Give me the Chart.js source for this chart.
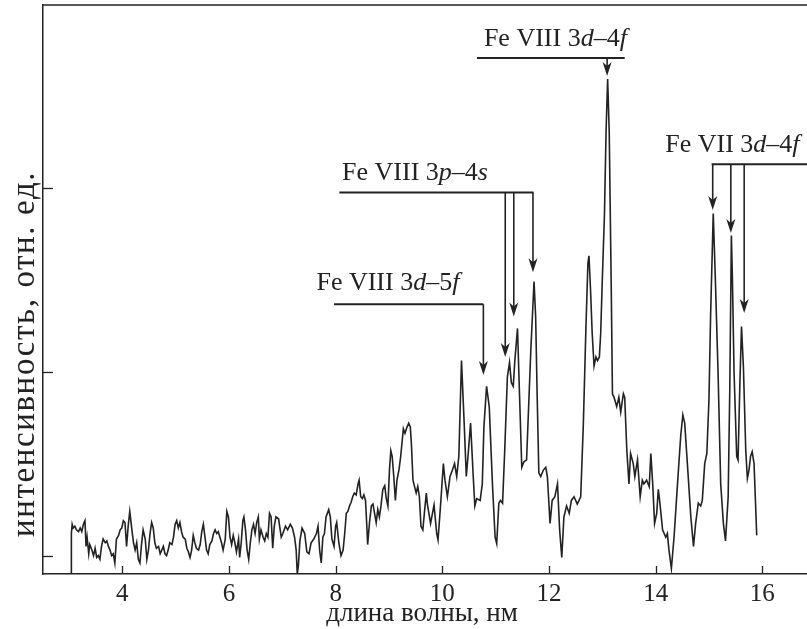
<!DOCTYPE html>
<html>
<head>
<meta charset="utf-8">
<script src="https://cdn.jsdelivr.net/npm/chart.js@4/dist/chart.umd.min.js"></script>
<style>
html,body{margin:0;padding:0;background:#fff;}
#wrap{width:807px;height:629px;position:relative;}
</style>
</head>
<body>
<div id="wrap"><canvas id="c" width="807" height="629"></canvas></div>
<script>
// ---- data (wavelength, nm ; intensity, arb. units) ----
const wavelength = [
3.04,3.045,3.06,3.08,3.11,3.14,3.18,3.21,3.24,3.27,3.30,3.32,3.34,3.37,3.39,3.43,3.46,3.49,3.52,3.55,3.58,3.61,3.64,3.68,3.71,3.74,3.77,3.80,3.83,3.86,3.89,3.93,3.96,3.99,
4.02,4.05,4.08,4.11,4.14,4.18,4.21,4.24,4.27,4.30,4.33,4.36,4.39,4.43,4.46,4.49,4.52,4.55,4.58,4.61,4.64,4.68,4.71,4.74,4.77,4.80,4.83,4.86,4.89,4.93,4.96,4.99,
5.02,5.05,5.08,5.11,5.14,5.18,5.21,5.24,5.27,5.30,5.33,5.36,5.39,5.43,5.46,5.49,5.52,5.55,5.58,5.61,5.64,5.68,5.71,5.74,5.77,5.80,5.83,5.86,5.89,5.93,5.96,5.99,
6.02,6.05,6.08,6.11,6.14,6.18,6.20,6.23,6.26,6.28,6.31,6.34,6.37,6.40,6.43,6.46,6.49,6.52,6.55,6.57,6.60,6.64,6.67,6.70,6.73,6.76,6.79,6.82,6.85,6.88,6.93,6.98,
7.01,7.06,7.10,7.15,7.19,7.23,7.26,7.28,7.30,7.33,7.37,7.42,7.46,7.50,7.54,7.59,7.64,7.67,7.70,7.73,7.76,7.79,7.82,7.87,7.90,7.93,7.97,
8.00,8.02,8.06,8.10,8.14,8.17,8.20,8.23,8.26,8.29,8.32,8.35,8.385,8.42,8.44,8.47,8.50,8.53,8.56,8.585,8.60,8.635,8.67,8.70,8.73,8.76,8.79,8.82,8.85,8.885,8.92,8.95,8.98,
9.01,9.035,9.06,9.09,9.12,9.15,9.19,9.22,9.25,9.27,9.30,9.34,9.37,9.40,9.42,9.45,9.48,9.51,9.54,9.57,9.60,9.635,9.67,9.70,9.72,9.78,9.845,9.895,9.92,9.97,
10.02,10.05,10.095,10.145,10.19,10.23,10.27,10.31,10.36,10.41,10.45,10.49,10.53,10.58,10.61,10.645,10.71,10.75,10.78,10.83,10.88,10.94,10.99,
11.02,11.06,11.09,11.13,11.17,11.22,11.26,11.295,11.33,11.36,11.41,11.445,11.49,11.53,11.58,11.66,11.72,11.75,11.78,11.81,11.845,11.895,11.94,11.97,
12.02,12.06,12.11,12.16,12.20,12.24,12.28,12.33,12.38,12.42,12.47,12.53,12.595,12.645,12.69,12.73,12.75,12.78,12.81,12.845,12.88,12.91,12.945,12.97,
13.00,13.04,13.07,13.10,13.13,13.15,13.17,13.19,13.22,13.27,13.31,13.345,13.395,13.42,13.46,13.50,13.53,13.58,13.61,13.66,13.71,13.75,13.78,13.83,13.88,13.91,13.945,13.98,
14.02,14.05,14.08,14.13,14.19,14.22,14.25,14.295,14.345,14.41,14.47,14.51,14.545,14.595,14.66,14.71,14.75,14.80,14.845,14.875,14.92,14.96,
15.00,15.03,15.08,15.12,15.17,15.22,15.27,15.31,15.36,15.39,15.42,15.44,15.47,15.52,15.545,15.58,15.61,15.645,15.69,15.72,15.75,15.78,15.81,15.845,15.875,15.895
];
const intensity = [
-0.10,0.12,0.17,0.15,0.16,0.14,0.13,0.15,0.13,0.17,0.19,0.05,0.10,0.01,0.06,0.03,0.00,0.04,-0.01,0.00,-0.02,0.05,0.09,0.07,0.08,0.05,0.03,0.00,0.01,-0.04,0.09,0.11,0.14,0.15,
0.19,0.18,0.05,0.16,0.24,0.14,0.07,0.03,0.07,-0.02,-0.04,0.06,0.14,0.09,-0.02,0.03,0.12,0.18,0.15,0.07,0.04,0.05,0.01,0.03,0.05,0.01,0.00,0.03,0.07,0.06,0.10,0.17,
0.19,0.15,0.18,0.13,0.10,0.09,0.04,0.02,-0.01,0.03,0.11,0.07,0.04,0.03,0.06,0.13,0.17,0.10,0.03,0.01,0.06,0.08,0.12,0.14,0.12,0.13,0.10,0.07,0.03,0.09,0.24,0.21,
0.10,0.06,0.11,0.07,0.02,0.09,-0.01,0.07,0.19,0.21,0.14,0.03,-0.02,0.07,0.14,0.17,0.12,0.18,0.21,0.09,0.14,0.10,0.08,0.12,0.10,0.23,0.21,0.04,0.16,0.21,0.20,0.10,
0.12,0.16,0.14,0.17,0.15,0.10,0.03,-0.10,-0.06,0.08,0.15,0.12,0.02,0.01,0.07,0.09,0.12,0.16,0.03,-0.04,0.10,0.12,0.21,0.25,0.21,0.09,0.05,
0.16,0.18,0.07,0.00,0.03,0.12,0.23,0.24,0.27,0.29,0.32,0.34,0.33,0.39,0.41,0.32,0.31,0.33,0.30,0.16,0.06,0.18,0.27,0.28,0.23,0.18,0.25,0.21,0.27,0.36,0.38,0.31,0.27,
0.47,0.57,0.54,0.43,0.30,0.41,0.47,0.54,0.63,0.69,0.665,0.70,0.72,0.70,0.61,0.41,0.375,0.34,0.375,0.32,0.16,0.14,0.25,0.34,0.28,0.175,0.275,0.12,0.085,0.285,
0.50,0.41,0.32,0.43,0.465,0.50,0.43,0.54,1.06,0.72,0.43,0.57,0.72,0.43,0.27,0.31,0.30,0.39,0.70,0.92,0.81,0.39,0.10,
0.065,0.285,0.30,0.285,0.57,0.97,1.05,0.94,0.92,1.06,1.235,0.90,0.48,0.51,0.52,1.12,1.49,1.30,0.85,0.45,0.43,0.465,0.48,0.43,
0.175,0.30,0.32,0.39,0.14,-0.01,0.21,0.27,0.23,0.30,0.32,0.28,0.32,0.72,1.21,1.59,1.63,1.44,1.21,1.03,1.08,1.06,1.08,1.21,
1.50,1.85,2.30,2.59,2.30,1.85,1.40,0.88,0.86,0.81,0.86,0.78,0.88,0.86,0.57,0.39,0.555,0.50,0.43,0.52,0.32,0.41,0.39,0.41,0.375,0.555,0.39,0.175,
0.23,0.36,0.285,0.14,0.10,0.12,0.03,-0.07,0.10,0.39,0.65,0.765,0.72,0.50,0.21,0.05,0.175,0.285,0.27,0.30,0.50,0.555,
0.85,1.30,1.86,1.50,1.00,0.39,0.175,0.08,0.32,0.90,1.74,1.50,1.00,0.54,0.52,0.94,1.245,1.03,0.57,0.42,0.465,0.54,0.565,0.50,0.27,0.11
];
const xTickValues = [4, 6, 8, 10, 12, 14, 16];
const yTickValues = [0, 1, 2];
const xTitle = 'длина волны, нм';
const yTitle = 'интенсивность, отн. ед.';

// ---- annotations (line identifications) ----
const annLabels = [
  [['Fe VIII 3',''],['d','italic '],['–4',''],['f','italic ']],
  [['Fe VIII 3',''],['p','italic '],['–4',''],['s','italic ']],
  [['Fe VIII 3',''],['d','italic '],['–5',''],['f','italic ']],
  [['Fe VII 3',''],['d','italic '],['–4',''],['f','italic ']]
];
const annTextPos = [[10.78, 2.77], [8.12, 2.042], [7.64, 1.444], [14.18, 2.195]];
const annBar = [[10.65, 13.42, 2.705], [8.07, 11.71, 1.974], [7.97, 10.77, 1.366], [15.05, 17.2, 2.127]];
const annArrowX = [[13.09], [11.18, 11.34, 11.70], [10.77], [15.07, 15.41, 15.66]];
const annArrowTip = [[2.607], [1.08, 1.30, 1.54], [0.982], [1.879, 1.754, 1.319]];

const INK = '#222';
const SERIF = "'Liberation Serif', 'Times New Roman', serif";

const extras = {
  id: 'extras',
  afterDraw(chart) {
    const ctx = chart.ctx, xs = chart.scales.x, ys = chart.scales.y, ca = chart.chartArea;
    ctx.save();
    ctx.strokeStyle = INK; ctx.fillStyle = INK;
    // top frame line
    ctx.lineWidth = 1.5;
    ctx.beginPath(); ctx.moveTo(ca.left, ca.top); ctx.lineTo(ca.right, ca.top); ctx.stroke();
    // inward tick marks
    ctx.lineWidth = 1.3;
    xTickValues.forEach(v => {
      const px = Math.round(xs.getPixelForValue(v)) + 0.5;
      ctx.beginPath(); ctx.moveTo(px, ca.bottom); ctx.lineTo(px, ca.bottom - 8); ctx.stroke();
    });
    yTickValues.forEach(v => {
      const py = Math.round(ys.getPixelForValue(v)) + 0.5;
      ctx.beginPath(); ctx.moveTo(ca.left, py); ctx.lineTo(ca.left + 10, py); ctx.stroke();
    });
    // annotations
    for (let i = 0; i < annLabels.length; i++) {
      const b = annBar[i];
      const by = ys.getPixelForValue(b[2]);
      ctx.lineWidth = 2;
      ctx.beginPath(); ctx.moveTo(xs.getPixelForValue(b[0]), by); ctx.lineTo(xs.getPixelForValue(b[1]), by); ctx.stroke();
      annArrowX[i].forEach((ax, k) => {
        const px = xs.getPixelForValue(ax);
        const tip = ys.getPixelForValue(annArrowTip[i][k]);
        ctx.lineWidth = 1.6;
        ctx.beginPath(); ctx.moveTo(px, by); ctx.lineTo(px, tip - 8); ctx.stroke();
        ctx.beginPath();
        ctx.moveTo(px, tip);
        ctx.lineTo(px - 4.5, tip - 14);
        ctx.lineTo(px, tip - 10);
        ctx.lineTo(px + 4.5, tip - 14);
        ctx.closePath(); ctx.fill();
      });
      // label text
      let tx = xs.getPixelForValue(annTextPos[i][0]);
      const ty = ys.getPixelForValue(annTextPos[i][1]);
      ctx.textBaseline = 'alphabetic'; ctx.textAlign = 'left';
      annLabels[i].forEach(([s, st]) => {
        ctx.font = st + '26px ' + SERIF;
        ctx.fillText(s, tx, ty);
        tx += ctx.measureText(s).width;
      });
    }
    // axis titles
    ctx.font = '27px ' + SERIF;
    ctx.textAlign = 'center'; ctx.textBaseline = 'alphabetic';
    ctx.fillText(xTitle, 422, 621);
    ctx.translate(34, 354);
    ctx.rotate(-Math.PI / 2);
    ctx.font = '33px ' + SERIF;
    if ('letterSpacing' in ctx) ctx.letterSpacing = '1.6px';
    ctx.fillText(yTitle, 0, 0);
    ctx.restore();
  }
};

new Chart(document.getElementById('c'), {
  type: 'line',
  data: {
    datasets: [{
      data: wavelength.map((w, i) => ({ x: w, y: intensity[i] })),
      borderColor: INK,
      borderWidth: 1.6,
      pointRadius: 0,
      tension: 0,
      fill: false
    }]
  },
  options: {
    responsive: false,
    animation: false,
    devicePixelRatio: 1,
    layout: { padding: { top: 5, right: 0, left: 0, bottom: 0 } },
    plugins: { legend: { display: false }, tooltip: { enabled: false } },
    scales: {
      x: {
        type: 'linear',
        min: 2.513, max: 16.838,
        afterBuildTicks: s => { s.ticks = xTickValues.map(v => ({ value: v })); },
        afterFit: s => { s.height = 55; },
        grid: { display: false, drawTicks: false },
        border: { display: true, color: INK, width: 1.5 },
        ticks: { color: INK, font: { family: SERIF, size: 25 }, padding: 5, maxRotation: 0, autoSkip: false }
      },
      y: {
        type: 'linear',
        min: -0.1, max: 2.993,
        afterBuildTicks: s => { s.ticks = yTickValues.map(v => ({ value: v })); },
        afterFit: s => { s.width = 43; },
        grid: { display: false, drawTicks: false },
        border: { display: true, color: INK, width: 1.5 },
        ticks: { display: false }
      }
    }
  },
  plugins: [extras]
});
</script>
</body>
</html>
